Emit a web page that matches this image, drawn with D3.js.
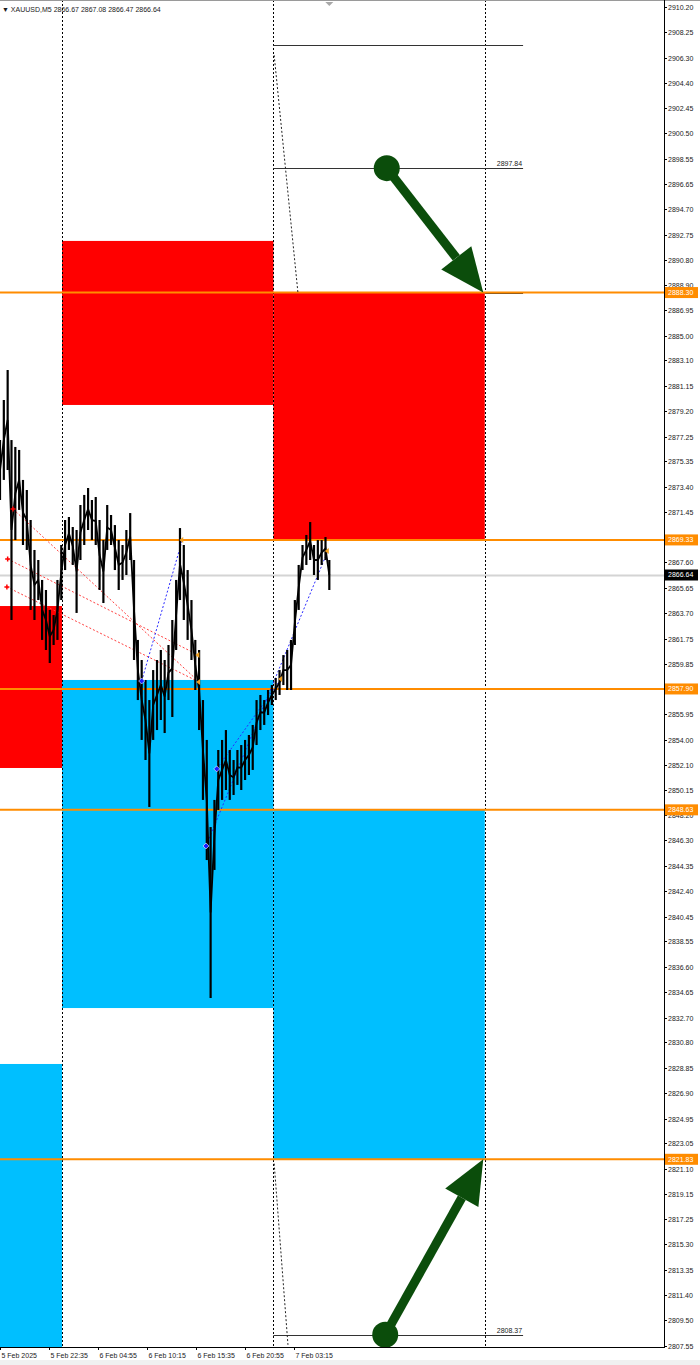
<!DOCTYPE html>
<html>
<head>
<meta charset="utf-8">
<script src="https://cdn.jsdelivr.net/npm/d3@7"></script>
<style>
  body { margin: 0; background: #fff; }
  svg { display: block; }
  text { font-family: "Liberation Sans", Arial, sans-serif; font-size: 7px; fill: #1a1a1a; }
</style>
</head>
<body>
<svg id="chart"></svg>
<script>
// ---- data (XAUUSD, M5) ----
var header = "XAUUSD,M5  2866.67 2867.08 2866.47 2866.64";
var lastPrice = 2866.64;

// price samples every 5 bars, starting at bar 0
var sampleStep = 5;
var highs = [2876.99, 2880.06, 2882.36, 2876.99, 2876.46, 2876.23, 2873.93, 2873.16, 2870.86, 2868.56,
  2867.79, 2866.26, 2865.49, 2863.96, 2863.57, 2866.26, 2868.94, 2870.86, 2871.09, 2870.32,
  2870.09, 2872.01, 2872.78, 2873.31, 2872.39, 2872.62, 2870.86, 2869.32, 2872.01, 2871.24,
  2870.47, 2869.32, 2868.94, 2870.09, 2871.39, 2867.79, 2861.66, 2860.12, 2858.59, 2857.05,
  2859.35, 2860.12, 2860.89, 2860.12, 2861.27, 2863.19, 2866.26, 2870.24, 2868.94, 2867.02,
  2864.72, 2861.66, 2860.89, 2857.05, 2853.99, 2847.31, 2849.39, 2853.22, 2853.99, 2854.75,
  2853.22, 2852.45, 2853.22, 2853.60, 2853.99, 2854.37, 2855.14, 2857.05, 2857.44, 2857.05,
  2857.82, 2858.20, 2858.74, 2859.35, 2860.50, 2860.89, 2861.66, 2864.72, 2867.41, 2868.94,
  2869.71, 2870.70, 2868.94, 2869.32, 2869.32, 2869.55, 2867.79];
var lows = [2872.39, 2873.93, 2874.69, 2863.19, 2869.32, 2871.63, 2868.94, 2868.56, 2863.96, 2863.19,
  2864.72, 2861.66, 2860.89, 2859.89, 2861.27, 2861.66, 2864.72, 2867.02, 2868.56, 2867.41,
  2863.73, 2867.79, 2868.94, 2870.09, 2869.32, 2868.94, 2865.49, 2864.49, 2868.56, 2868.94,
  2867.02, 2865.49, 2866.26, 2866.64, 2867.79, 2860.12, 2857.05, 2853.99, 2852.45, 2848.85,
  2853.99, 2854.75, 2855.52, 2854.52, 2857.05, 2855.75, 2860.89, 2864.72, 2863.19, 2861.66,
  2860.12, 2857.82, 2854.75, 2849.39, 2844.78, 2834.20, 2844.02, 2848.62, 2849.39, 2850.15,
  2849.39, 2849.77, 2850.54, 2850.15, 2850.92, 2851.30, 2851.69, 2853.60, 2854.75, 2855.14,
  2855.90, 2856.67, 2857.05, 2857.44, 2858.20, 2857.82, 2857.82, 2861.27, 2863.96, 2867.02,
  2867.41, 2867.79, 2866.64, 2866.26, 2867.41, 2867.79, 2865.49];

// day separators (bar index)
var daySeparators = [81, 357, 633];

// zones: [fromBar, toBar, top, bottom]
var supplyZones = [[81, 357, 2892.26, 2879.68], [357, 633, 2888.30, 2869.33], [-200, 81, 2864.26, 2851.84]];
var demandZones = [[81, 357, 2858.59, 2833.43], [357, 633, 2848.63, 2821.83], [-200, 81, 2829.14, 2800.00]];

var orangeLevels = [2888.30, 2869.33, 2857.90, 2848.63, 2821.83];

// target lines: [fromBar, toBar, price, label]
var targetLines = [[357, 683, 2907.30, ""], [357, 683, 2897.84, "2897.84"], [357, 683, 2808.37, "2808.37"],
  [633, 683, 2888.30, ""], [633, 683, 2821.83, ""]];

// dotted projection lines: [bar1, price1, bar2, price2]
var redDotted = [[17, 2871.70, 260, 2858.43], [10, 2867.87, 259, 2860.50], [9, 2865.72, 260, 2858.43]];
var blueDotted = [[185, 2858.51, 238, 2869.33], [269, 2845.86, 428, 2868.48], [283, 2851.77, 367, 2858.67]];
var blackDotted = [[358, 2906.50, 389, 2888.30], [358, 2821.50, 376, 2807.60]];
var orangeMarks = [[260, 2858.43], [259, 2860.50], [238, 2869.33], [367, 2858.67], [428, 2868.48]];
var redMarks = [[17, 2871.70], [10, 2867.87], [9, 2865.72]];
var blueMarks = [[185, 2858.51], [269, 2845.86], [283, 2851.77]];

// green arrows: [startBar, startPrice, tipBar, tipPrice]
var arrows = [[505, 2897.84, 631, 2888.30], [503, 2808.37, 631, 2821.83]];

var priceTicks = ["2910.20", "2908.25", "2906.30", "2904.40", "2902.45", "2900.50", "2898.55", "2896.65",
  "2894.70", "2892.75", "2890.80", "2888.90", "2886.95", "2885.00", "2883.10", "2881.15", "2879.20",
  "2877.25", "2875.35", "2873.40", "2871.45", "2869.50", "2867.60", "2865.65", "2863.70", "2861.75",
  "2859.85", "2857.90", "2855.95", "2854.00", "2852.10", "2850.15", "2848.20", "2846.30", "2844.35",
  "2842.40", "2840.45", "2838.55", "2836.60", "2834.65", "2832.70", "2830.80", "2828.85", "2826.90",
  "2824.95", "2823.05", "2821.10", "2819.15", "2817.25", "2815.30", "2813.35", "2811.40", "2809.50", "2807.55"];

var timeBars = [0, 64, 128, 192, 256, 320, 384];
var timeLabels = ["5 Feb 2025", "5 Feb 22:35", "6 Feb 04:55", "6 Feb 10:15", "6 Feb 15:35", "6 Feb 20:55", "7 Feb 03:15"];

// ---- layout ----
var width = 700, height = 1365;
var plotRight = 664, plotBottom = 1347;

var svg = d3.select("#chart").attr("width", width).attr("height", height);

var x = d3.scaleLinear().domain([0, 867]).range([0, plotRight]);
var y = d3.scaleLinear().domain([2807.55, 2910.20]).range([1345.5, 7]);

svg.append("defs").append("clipPath").attr("id", "plotclip")
  .append("rect").attr("x", 0).attr("y", 0).attr("width", plotRight).attr("height", plotBottom);

// bottom strip
svg.append("rect").attr("x", 0).attr("y", 1360).attr("width", width).attr("height", 5).attr("fill", "#f0f0f0");

var plot = svg.append("g").attr("clip-path", "url(#plotclip)");

// zones
plot.append("g").selectAll("rect").data(supplyZones).enter().append("rect")
  .attr("x", function (d) { return x(d[0]); })
  .attr("y", function (d) { return y(d[2]); })
  .attr("width", function (d) { return x(d[1]) - x(d[0]); })
  .attr("height", function (d) { return y(d[3]) - y(d[2]); })
  .attr("fill", "#ff0000");

plot.append("g").selectAll("rect").data(demandZones).enter().append("rect")
  .attr("x", function (d) { return x(d[0]); })
  .attr("y", function (d) { return y(d[2]); })
  .attr("width", function (d) { return x(d[1]) - x(d[0]); })
  .attr("height", function (d) { return y(d[3]) - y(d[2]); })
  .attr("fill", "#00bfff");

// current price line
plot.append("line")
  .attr("x1", 0).attr("x2", plotRight)
  .attr("y1", Math.round(y(lastPrice)) + 0.5).attr("y2", Math.round(y(lastPrice)) + 0.5)
  .attr("stroke", "#d4d4d4").attr("stroke-width", 2);

// day separators
plot.append("g").selectAll("line").data(daySeparators).enter().append("line")
  .attr("x1", function (d) { return Math.round(x(d)) + 0.5; })
  .attr("x2", function (d) { return Math.round(x(d)) + 0.5; })
  .attr("y1", 0).attr("y2", plotBottom)
  .attr("stroke", "#000").attr("stroke-width", 1).attr("stroke-dasharray", "2,2");

// target lines
var tl = plot.append("g");
tl.selectAll("line").data(targetLines).enter().append("line")
  .attr("x1", function (d) { return x(d[0]); })
  .attr("x2", function (d) { return x(d[1]); })
  .attr("y1", function (d) { return Math.round(y(d[2])) + 0.5; })
  .attr("y2", function (d) { return Math.round(y(d[2])) + 0.5; })
  .attr("stroke", "#333").attr("stroke-width", 1);
tl.selectAll("text").data(targetLines.filter(function (d) { return d[3] !== ""; })).enter().append("text")
  .attr("x", function (d) { return x(d[1]) - 1; })
  .attr("y", function (d) { return y(d[2]) - 2; })
  .attr("text-anchor", "end")
  .text(function (d) { return d[3]; });

// orange levels
plot.append("g").selectAll("line").data(orangeLevels).enter().append("line")
  .attr("x1", 0).attr("x2", plotRight)
  .attr("y1", function (d) { return y(d); })
  .attr("y2", function (d) { return y(d); })
  .attr("stroke", "#ff8c00").attr("stroke-width", 2);

function dottedLines(data, color) {
  plot.append("g").selectAll("line").data(data).enter().append("line")
    .attr("x1", function (d) { return x(d[0]); })
    .attr("y1", function (d) { return y(d[1]); })
    .attr("x2", function (d) { return x(d[2]); })
    .attr("y2", function (d) { return y(d[3]); })
    .attr("stroke", color).attr("stroke-width", 1).attr("stroke-dasharray", "2,2");
}
dottedLines(redDotted, "#ff4040");
dottedLines(blueDotted, "#2a2aff");
dottedLines(blackDotted, "#222");

// price bars: vertical high-low bars joined through their mid points
var bars = highs.map(function (h, i) { return { bar: i * sampleStep, high: h, low: lows[i] }; });
var pline = d3.line()
  .x(function (d) { return x(d.bar); })
  .y(function (d) { return y((d.high + d.low) / 2); });
plot.append("path").datum(bars).attr("d", pline)
  .attr("fill", "none").attr("stroke", "#000").attr("stroke-width", 1.8);
plot.append("g").selectAll("line").data(bars).enter().append("line")
  .attr("x1", function (d) { return x(d.bar); })
  .attr("x2", function (d) { return x(d.bar); })
  .attr("y1", function (d) { return y(d.high); })
  .attr("y2", function (d) { return y(d.low); })
  .attr("stroke", "#000").attr("stroke-width", 2.2);

// markers
plot.append("g").selectAll("path").data(orangeMarks).enter().append("path")
  .attr("d", function (d) {
    var px = x(d[0]), py = y(d[1]);
    return "M" + (px - 3) + "," + py + "L" + (px + 1) + "," + (py - 3) + "L" + (px + 1) + "," + (py + 3) + "Z";
  })
  .attr("fill", "#f0a020");
plot.append("g").selectAll("path").data(redMarks).enter().append("path")
  .attr("d", function (d) {
    var px = x(d[0]), py = y(d[1]);
    return "M" + (px - 2.5) + "," + py + "H" + (px + 2.5) + "M" + px + "," + (py - 2.5) + "V" + (py + 2.5);
  })
  .attr("stroke", "#ff0000").attr("stroke-width", 1.5);
plot.append("g").selectAll("path").data(blueMarks).enter().append("path")
  .attr("d", function (d) {
    var px = x(d[0]), py = y(d[1]);
    return "M" + (px - 3) + "," + py + "L" + px + "," + (py - 3) + "L" + (px + 3) + "," + py + "L" + px + "," + (py + 3) + "Z";
  })
  .attr("fill", "#1a1aff").attr("stroke", "#fff").attr("stroke-width", 0.6);

// green arrows
var green = "#0b4d0b";
var ag = plot.append("g");
arrows.forEach(function (a) {
  var x1 = x(a[0]), y1 = y(a[1]), x2 = x(a[2]), y2 = y(a[3]);
  var dx = x2 - x1, dy = y2 - y1, len = Math.sqrt(dx * dx + dy * dy);
  var ux = dx / len, uy = dy / len;
  var headLen = 44, headW = 19;
  var bx = x2 - ux * headLen, by = y2 - uy * headLen;
  ag.append("line").attr("x1", x1).attr("y1", y1).attr("x2", bx).attr("y2", by)
    .attr("stroke", green).attr("stroke-width", 9);
  ag.append("path")
    .attr("d", "M" + x2 + "," + y2 + "L" + (bx - uy * headW) + "," + (by + ux * headW) +
      "L" + (bx + uy * headW) + "," + (by - ux * headW) + "Z")
    .attr("fill", green);
  ag.append("circle").attr("cx", x1).attr("cy", y1).attr("r", 13).attr("fill", green);
});

// frame
svg.append("line").attr("x1", 0).attr("x2", width).attr("y1", 0.5).attr("y2", 0.5).attr("stroke", "#9a9a9a");
svg.append("line").attr("x1", plotRight + 0.5).attr("x2", plotRight + 0.5).attr("y1", 0).attr("y2", plotBottom + 0.5)
  .attr("stroke", "#000");
svg.append("line").attr("x1", 0).attr("x2", plotRight + 1).attr("y1", plotBottom + 0.5).attr("y2", plotBottom + 0.5)
  .attr("stroke", "#000");

// shift marker
svg.append("path").attr("d", "M" + (x(430) - 4) + ",2 L" + (x(430) + 4) + ",2 L" + x(430) + ",6 Z").attr("fill", "#a8a8a8");

// header
svg.append("text").attr("x", 2).attr("y", 12).text("\u25BC " + header);

// price axis
var pax = svg.append("g");
priceTicks.forEach(function (t) {
  var py = Math.round(y(+t)) + 0.5;
  pax.append("line").attr("x1", plotRight).attr("x2", plotRight + 3).attr("y1", py).attr("y2", py).attr("stroke", "#000");
  pax.append("text").attr("x", 668).attr("y", py + 2.5).text(t);
});

function priceTag(v, fill) {
  var py = y(v);
  pax.append("rect").attr("x", plotRight + 1).attr("y", py - 5.5).attr("width", 33).attr("height", 11).attr("fill", fill);
  pax.append("text").attr("x", 668).attr("y", py + 2.5).style("fill", "#fff").text(v.toFixed(2));
}
orangeLevels.forEach(function (v) { priceTag(v, "#ff8c00"); });
priceTag(lastPrice, "#000");

// time axis
var tax = svg.append("g");
timeBars.forEach(function (b, i) {
  var tx = Math.round(x(b)) + 0.5;
  tax.append("line").attr("x1", tx).attr("x2", tx).attr("y1", plotBottom).attr("y2", plotBottom + 3).attr("stroke", "#000");
  tax.append("text").attr("x", tx + 1).attr("y", 1358).text(timeLabels[i]);
});
</script>
</body>
</html>
